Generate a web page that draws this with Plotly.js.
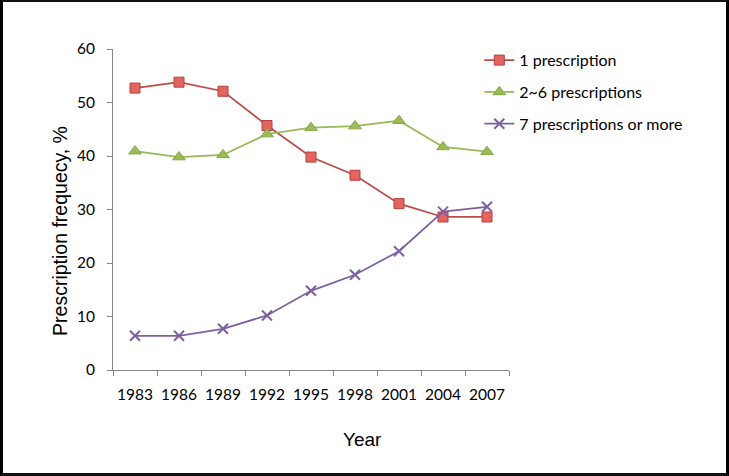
<!DOCTYPE html>
<html>
<head>
<meta charset="utf-8">
<script src="https://cdn.plot.ly/plotly-3.0.1.min.js"></script>
<style>
  html, body { margin: 0; padding: 0; background: #fff; }
  #wrap { position: absolute; left: 0; top: 0; width: 723px; height: 471px; border-left: 3px solid #000; border-right: 3px solid #000; border-top: 2px solid #111; border-bottom: 3px solid #111; }
  #chart { width: 723px; height: 471px; }
</style>
</head>
<body>
<div id="wrap"><div id="chart"></div></div>
<script>
const years = ["1983", "1986", "1989", "1992", "1995", "1998", "2001", "2004", "2007"];
const onePrescription = [52.7, 53.8, 52.1, 45.7, 39.8, 36.4, 31.1, 28.6, 28.6];
const twoToSix = [40.9, 39.8, 40.2, 44.1, 45.3, 45.6, 46.6, 41.7, 40.8];
const sevenOrMore = [6.4, 6.4, 7.7, 10.2, 14.8, 17.8, 22.2, 29.6, 30.5];
const seriesNames = ["1 prescription", "2~6 prescriptions", "7 prescriptions or more"];

const traces = [
  {
    x: years, y: onePrescription, name: seriesNames[0], legendgroup: "a",
    type: "scatter", mode: "lines+markers",
    line: { color: "#BE4B48", width: 1.75 },
    marker: { symbol: "square", size: 10, color: "#E26560", line: { color: "#B5403D", width: 1 } }
  },
  {
    x: years, y: twoToSix, name: seriesNames[1], legendgroup: "b",
    type: "scatter", mode: "lines+markers",
    line: { color: "#98B954", width: 1.75 },
    marker: { symbol: "triangle-up", size: 11, color: "#9BBB59", line: { color: "#86A648", width: 1 } }
  },
  {
    x: years, y: sevenOrMore, name: seriesNames[2], legendgroup: "c",
    type: "scatter", mode: "lines+markers",
    line: { color: "#7D60A0", width: 1.75 },
    marker: { symbol: "x-thin", size: 10, color: "#7D60A0", line: { color: "#7D60A0", width: 2 } }
  }
];

const layout = {
  width: 723, height: 471,
  margin: { l: 110, r: 217, t: 47, b: 103 },
  paper_bgcolor: "#fff", plot_bgcolor: "#fff",
  font: { family: "Lato, 'Open Sans', sans-serif", size: 15, color: "#000" },
  showlegend: true,
  legend: {
    x: 0.925, xanchor: "left", y: 1.018, yanchor: "top",
    font: { family: "Lato, sans-serif", size: 16, color: "#000" },
    bgcolor: "rgba(0,0,0,0)", tracegroupgap: 8, itemwidth: 30
  },
  xaxis: {
    type: "category", showgrid: false, zeroline: false,
    showline: true, linecolor: "#868686", linewidth: 1,
    ticks: "outside", tickson: "boundaries", ticklen: 5, tickcolor: "#868686",
    tickangle: 0, ticklabelstandoff: 10,
    tickfont: { family: "Lato, sans-serif", size: 15.5, color: "#000" },
    range: [-0.5, 8.5]
  },
  yaxis: {
    range: [0, 60], dtick: 10, showgrid: false, zeroline: false,
    showline: true, linecolor: "#868686", linewidth: 1,
    ticks: "outside", ticklen: 5, tickcolor: "#868686", ticklabelstandoff: 9,
    tickfont: { family: "Lato, sans-serif", size: 15.5, color: "#000" }
  },
  annotations: [
    { text: "Year", xref: "paper", yref: "paper", x: 0.631, y: -0.218, xanchor: "center", yanchor: "middle", showarrow: false,
      font: { family: "'Liberation Sans', Arial, sans-serif", size: 19, color: "#000" } },
    { text: "Prescription frequecy, %", xref: "paper", yref: "paper", x: -0.134, y: 0.433, xanchor: "center", yanchor: "middle", showarrow: false, textangle: -90,
      font: { family: "'Liberation Sans', Arial, sans-serif", size: 19.5, color: "#000" } }
  ]
};

Plotly.newPlot("chart", traces, layout, { displayModeBar: false, staticPlot: true });
</script>
</body>
</html>
